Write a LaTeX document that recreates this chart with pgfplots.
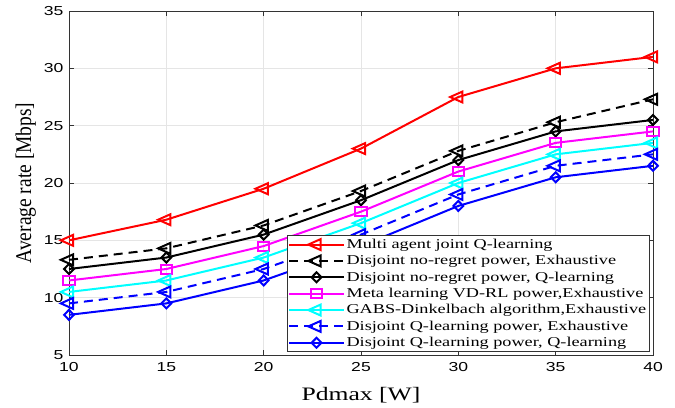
\documentclass[border=0pt]{standalone}
\usepackage{pgfplots}
\pgfplotsset{compat=1.18}
\usepackage{fontspec}
\usepackage{graphicx}
\usetikzlibrary{calc}
\setmainfont{Liberation Serif}
\newfontfamily\ticksf{Liberation Sans}[FakeStretch=1.35]
\newfontfamily\legserif{Liberation Serif}[FakeStretch=1.35]
\newfontfamily\plainserif{Liberation Serif}
\definecolor{mred}{rgb}{1,0,0}
\definecolor{mmag}{rgb}{1,0,1}
\definecolor{mcyan}{rgb}{0,1,1}
\definecolor{mblue}{rgb}{0,0,1}
\begin{document}
\begin{tikzpicture}
\begin{axis}[
  scale only axis,
  width=584pt, height=344pt,
  xmin=10, xmax=40, ymin=5, ymax=35,
  xtick={10,15,...,40}, ytick={5,10,...,35},
  grid=major,
  grid style={draw=black!10, line width=0.6pt},
  axis line style={draw=black!80, line width=0.6pt},
  tick style={draw=black!80, line width=0.6pt},
  tick align=inside,
  major tick length=5pt,
  /pgf/number format/assume math mode=true,
  ticklabel style={font=\ticksf\fontsize{13}{15}\selectfont},
  xticklabel style={yshift=-4pt},
  yticklabel style={xshift=-2pt},
  xlabel={Pdmax [W]},
  ylabel={\scalebox{1}[1.15]{Average rate [Mbps]}},
  xlabel style={font=\legserif\fontsize{19}{22}\selectfont, yshift=-9pt},
  ylabel style={font=\plainserif\fontsize{19.5}{22}\selectfont, yshift=1pt},
  clip=false,
  legend cell align=left,
  legend style={at={(1,0)}, anchor=south east, xshift=-3pt, yshift=3pt,
    font=\legserif\fontsize{13.5}{15}\selectfont, draw=black!80, line width=0.6pt,
    inner sep=1.5pt, row sep=1.5pt},
  legend image code/.code={
    \draw[mark repeat=2,mark phase=2] plot coordinates {(0cm,0cm) (0.95cm,0cm) (1.9cm,0cm)};
  },
  every axis plot/.append style={line width=2pt},
]
\addplot[color=mred, mark=triangle, mark size=6.3pt, mark options={solid, xscale=1.3, rotate=90}]
  coordinates {(10,15) (15,16.8) (20,19.5) (25,23) (30,27.5) (35,30) (40,31)};
\addlegendentry{Multi agent joint Q-learning}
\addplot[color=black, dash pattern=on 9pt off 6pt, mark=triangle, mark size=6.3pt, mark options={solid, xscale=1.3, rotate=90}]
  coordinates {(10,13.3) (15,14.3) (20,16.3) (25,19.3) (30,22.8) (35,25.3) (40,27.3)};
\addlegendentry{Disjoint no-regret power, Exhaustive}
\addplot[color=black, mark=diamond, mark size=5pt, mark options={solid, xscale=1.3}]
  coordinates {(10,12.5) (15,13.5) (20,15.5) (25,18.5) (30,22) (35,24.5) (40,25.5)};
\addlegendentry{Disjoint no-regret power, Q-learning}
\addplot[color=mmag, mark=square, mark size=4.5pt, mark options={solid, xscale=1.25}]
  coordinates {(10,11.5) (15,12.5) (20,14.5) (25,17.5) (30,21) (35,23.5) (40,24.5)};
\addlegendentry{Meta learning VD-RL power,Exhaustive}
\addplot[color=mcyan, mark=triangle, mark size=6.3pt, mark options={solid, xscale=1.3, rotate=90}]
  coordinates {(10,10.5) (15,11.5) (20,13.5) (25,16.5) (30,20) (35,22.5) (40,23.5)};
\addlegendentry{GABS-Dinkelbach algorithm,Exhaustive}
\addplot[color=mblue, dash pattern=on 9pt off 6pt, mark=triangle, mark size=6.3pt, mark options={solid, xscale=1.3, rotate=90}]
  coordinates {(10,9.5) (15,10.5) (20,12.5) (25,15.5) (30,19) (35,21.5) (40,22.5)};
\addlegendentry{Disjoint Q-learning power, Exhaustive}
\addplot[color=mblue, mark=diamond, mark size=5pt, mark options={solid, xscale=1.3}]
  coordinates {(10,8.5) (15,9.5) (20,11.5) (25,14.5) (30,18) (35,20.5) (40,21.5)};
\addlegendentry{Disjoint Q-learning power, Q-learning}
\end{axis}
\path[use as bounding box] ($(current axis.south west)+(-69pt,-52pt)$) rectangle ($(current axis.north east)+(22pt,11pt)$);
\end{tikzpicture}
\end{document}
